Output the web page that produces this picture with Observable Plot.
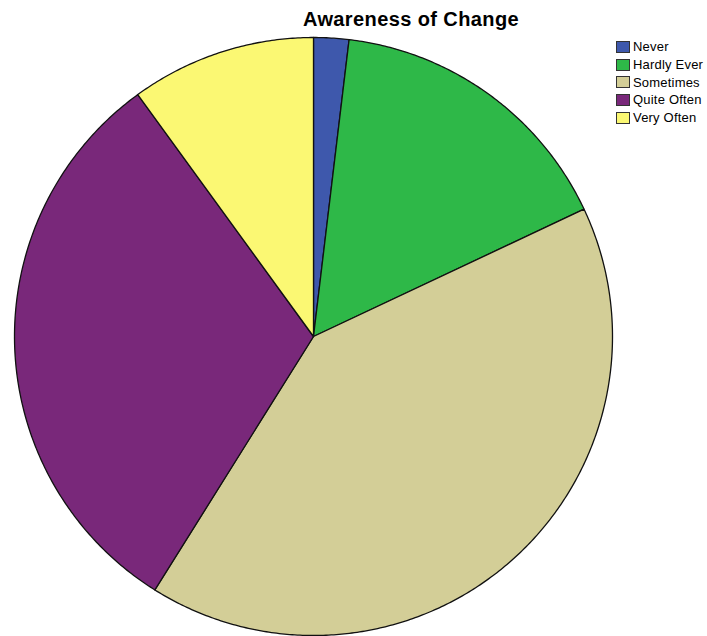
<!DOCTYPE html>
<html>
<head>
<meta charset="utf-8">
<script src="https://cdn.jsdelivr.net/npm/d3@7"></script>
<script src="https://cdn.jsdelivr.net/npm/@observablehq/plot@0.6"></script>
<style>
  html, body { margin: 0; padding: 0; background: #fff; }
  #wrap { position: relative; width: 707px; height: 636px; overflow: hidden; font-family: "Liberation Sans", Arial, sans-serif; }
  #wrap svg.pie { position: absolute; left: 0; top: 0; }
  #title { position: absolute; left: 411px; top: 8px; transform: translateX(-50%); font-weight: bold; font-size: 20px; letter-spacing: 0.4px; white-space: nowrap; color: #000; }
  #legend { position: absolute; left: 616px; top: 38px; font-size: 13px; letter-spacing: 0.2px; color: #000; }
  #legend .row { display: flex; align-items: center; height: 17.7px; }
  #legend .sw { width: 12px; height: 10px; border: 1px solid #333; margin-right: 3px; box-sizing: content-box; }
</style>
</head>
<body>
<div id="wrap">
  <div id="title">Awareness of Change</div>
  <div id="legend"></div>
</div>
<script>
const categories = ["Never", "Hardly Ever", "Sometimes", "Quite Often", "Very Often"];
const percents = [1.9, 16.1, 40.9, 31.1, 10.0];
const colors = ["#3E58AC", "#2EB848", "#D3CE97", "#79287A", "#FBF873"];

// Build slice outlines (clockwise from 12 o'clock) from the data values
const total = d3.sum(percents);
const pts = [];
let start = 0;
categories.forEach((cat, i) => {
  const span = percents[i] / total * 2 * Math.PI;
  const end = start + span;
  const n = Math.max(2, Math.ceil(span / (Math.PI / 360)));
  pts.push({cat, x: 0, y: 0});
  for (let k = 0; k <= n; k++) {
    const a = start + span * k / n;
    pts.push({cat, x: Math.sin(a), y: Math.cos(a)});
  }
  pts.push({cat, x: 0, y: 0});
  start = end;
});

const chart = Plot.plot({
  width: 707,
  height: 636,
  marginLeft: 14,
  marginRight: 95,
  marginTop: 37,
  marginBottom: 1,
  x: {domain: [-1, 1], axis: null},
  y: {domain: [-1, 1], axis: null},
  color: {domain: categories, range: colors},
  style: {background: "transparent"},
  marks: [
    Plot.line(pts, {x: "x", y: "y", z: "cat", fill: "cat", stroke: "#111", strokeWidth: 1.3, strokeLinejoin: "round", curve: "linear"})
  ]
});
chart.classList.add("pie");
document.getElementById("wrap").prepend(chart);

const legend = document.getElementById("legend");
categories.forEach((c, i) => {
  const row = document.createElement("div");
  row.className = "row";
  const sw = document.createElement("div");
  sw.className = "sw";
  sw.style.background = colors[i];
  const t = document.createElement("span");
  t.textContent = c;
  row.appendChild(sw);
  row.appendChild(t);
  legend.appendChild(row);
});
</script>
</body>
</html>
